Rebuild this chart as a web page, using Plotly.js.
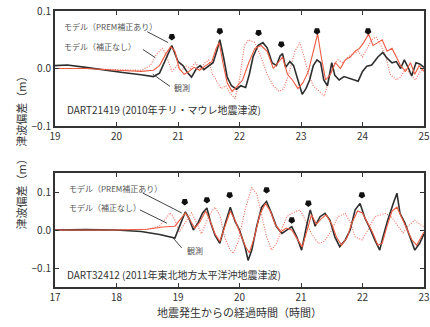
<!DOCTYPE html>
<html><head><meta charset="utf-8">
<script src="https://cdn.plot.ly/plotly-3.0.1.min.js"></script>
<style>body{margin:0;background:#fff}#c{width:430px;height:327px}</style>
</head><body><div id="c"></div>
<script>
// Top panel: DART21419
const tObsA=[19.0,19.2,19.5,19.8,20.1,20.4,20.6,20.7,20.8,20.9,21.0,21.08,21.16,21.22,21.3,21.36,21.42,21.5,21.57,21.63,21.68,21.74,21.8,21.87,21.95,22.02,22.1,22.16,22.22,22.3,22.38,22.45,22.53,22.6,22.66,22.7,22.75,22.82,22.88,22.95,23.02,23.08,23.14,23.2,23.26,23.32,23.37,23.43,23.5,23.55,23.62,23.7,23.76,23.84,23.93,24.0,24.07,24.15,24.25,24.33,24.4,24.48,24.55,24.62,24.68,24.75,24.8,24.87,24.93,25.0];
const vObsA=[0.005,0.006,0.002,-0.003,-0.007,-0.011,-0.014,-0.008,0.015,0.04,0.012,0.005,-0.008,-0.015,0.0,0.005,-0.002,0.005,0.01,0.03,0.05,0.02,-0.015,-0.03,-0.036,-0.03,-0.033,-0.01,0.02,0.04,0.045,0.036,0.01,0.005,0.022,0.026,0.002,0.012,0.005,-0.02,-0.045,-0.035,-0.02,0.005,0.015,0.01,-0.02,-0.03,0.01,-0.012,-0.02,-0.014,-0.016,-0.018,-0.022,-0.005,0.004,0.006,0.02,0.028,0.018,0.01,0.012,0.0,0.015,0.0,-0.013,0.01,0.008,0.002];
const tPremA=[19.0,19.5,20.0,20.4,20.6,20.7,20.8,20.88,20.95,21.02,21.1,21.18,21.26,21.35,21.45,21.55,21.62,21.67,21.73,21.8,21.88,21.96,22.05,22.15,22.25,22.35,22.45,22.55,22.62,22.7,22.78,22.86,22.95,23.03,23.12,23.2,23.27,23.33,23.4,23.48,23.56,23.64,23.72,23.8,23.88,23.95,24.02,24.1,24.17,24.25,24.32,24.4,24.48,24.55,24.62,24.7,24.78,24.85,24.92,25.0];
const vPremA=[0.0,0.0,-0.003,-0.005,-0.003,0.005,0.025,0.038,0.03,0.0,-0.01,-0.005,0.002,-0.003,0.005,0.012,0.035,0.045,0.01,-0.025,-0.04,-0.03,-0.02,0.01,0.035,0.04,0.03,0.0,0.01,0.02,-0.01,-0.02,-0.035,-0.025,-0.005,0.03,0.06,0.02,-0.02,-0.01,0.01,0.0,0.015,0.02,0.03,0.035,0.045,0.06,0.04,0.045,0.05,0.03,0.035,0.02,0.005,-0.005,0.01,-0.01,0.005,-0.005];
const tUncA=[19.0,19.5,20.0,20.4,20.55,20.65,20.75,20.82,20.9,20.98,21.05,21.12,21.2,21.28,21.36,21.44,21.5,21.56,21.62,21.7,21.78,21.86,21.93,22.0,22.08,22.15,22.25,22.35,22.45,22.55,22.65,22.72,22.8,22.9,22.98,23.05,23.12,23.2,23.3,23.38,23.45,23.52,23.6,23.68,23.76,23.85,23.93,24.0,24.08,24.15,24.22,24.3,24.38,24.45,24.55,24.62,24.7,24.78,24.86,24.94,25.0];
const vUncA=[0.0,0.0,-0.002,-0.003,0.005,0.025,0.035,0.02,-0.005,0.005,-0.005,0.005,0.0,0.01,0.0,0.01,0.015,-0.01,-0.02,-0.035,-0.03,-0.045,-0.052,-0.02,0.04,0.05,0.045,0.02,-0.01,-0.03,-0.04,-0.035,-0.01,0.03,0.045,0.02,-0.01,-0.03,-0.04,-0.048,-0.02,0.005,0.015,0.01,0.02,0.025,0.03,0.02,0.035,0.05,0.055,0.04,0.02,-0.01,-0.02,-0.015,0.0,-0.01,-0.02,-0.005,0.0];
const tStarA=[20.9,21.68,22.31,22.68,23.26,24.09];
const vStarA=[0.055,0.065,0.062,0.042,0.065,0.065];

// Bottom panel: DART32412
const tObsB=[17.0,17.5,18.0,18.4,18.7,18.95,19.05,19.12,19.18,19.25,19.33,19.4,19.47,19.53,19.6,19.68,19.77,19.85,19.93,20.0,20.09,20.14,20.2,20.28,20.36,20.44,20.52,20.6,20.69,20.77,20.85,20.93,21.01,21.1,21.15,21.23,21.31,21.39,21.47,21.55,21.63,21.72,21.8,21.88,21.96,22.04,22.12,22.2,22.28,22.33,22.41,22.5,22.56,22.61,22.69,22.77,22.85,22.93,23.0];
const vObsB=[0.0,0.001,0.0,-0.004,-0.012,-0.021,0.02,0.048,0.03,0.0,0.02,0.045,0.058,0.02,-0.013,-0.035,0.018,0.06,0.022,0.0,-0.044,-0.08,-0.053,0.01,0.06,0.075,0.044,0.009,-0.009,0.0,0.009,-0.018,-0.053,0.018,0.053,0.01,0.035,0.044,0.026,-0.018,-0.044,-0.026,0.0,0.053,0.07,0.031,0.005,-0.026,-0.053,-0.02,0.026,0.07,0.097,0.044,0.018,-0.018,-0.053,-0.035,-0.01];
const tPremB=[17.0,18.0,18.5,18.75,18.95,19.05,19.12,19.2,19.27,19.35,19.45,19.52,19.6,19.68,19.77,19.85,19.93,20.02,20.1,20.16,20.24,20.33,20.42,20.5,20.58,20.67,20.76,20.85,20.94,21.02,21.1,21.17,21.25,21.33,21.41,21.5,21.58,21.66,21.75,21.83,21.92,22.0,22.08,22.16,22.25,22.32,22.4,22.48,22.56,22.63,22.71,22.8,22.88,22.95,23.0];
const vPremB=[0.0,0.0,0.002,0.008,0.01,0.03,0.045,0.025,0.005,0.02,0.05,0.025,-0.01,-0.03,0.01,0.05,0.025,-0.01,-0.045,-0.06,-0.02,0.04,0.07,0.05,0.015,-0.005,0.005,0.0,-0.025,-0.045,0.0,0.04,0.015,0.03,0.04,0.015,-0.02,-0.04,-0.02,0.02,0.05,0.045,0.02,-0.005,-0.04,-0.035,0.01,0.05,0.06,0.035,0.01,-0.025,-0.04,-0.02,-0.005];
const tUncB=[17.0,18.0,18.5,18.7,18.8,18.87,18.94,19.02,19.12,19.22,19.3,19.38,19.46,19.53,19.6,19.68,19.76,19.84,19.9,19.98,20.09,20.2,20.28,20.36,20.44,20.52,20.6,20.68,20.77,20.85,20.98,21.07,21.17,21.28,21.38,21.5,21.6,21.72,21.8,21.88,21.99,22.09,22.2,22.37,22.47,22.58,22.66,22.74,22.85,22.93,23.0];
const vUncB=[0.0,0.0,0.002,0.01,0.03,0.045,0.03,-0.005,0.02,0.045,0.02,-0.01,0.02,0.045,0.06,0.04,-0.02,-0.05,-0.062,-0.03,0.053,0.112,0.095,0.04,-0.018,-0.053,-0.035,0.0,0.035,0.044,0.053,0.026,-0.01,-0.035,-0.03,0.0,0.035,0.044,0.02,-0.018,-0.026,0.0,0.035,0.044,0.035,0.01,-0.008,0.01,0.026,0.015,0.009];
const tStarB=[19.11,19.47,19.84,20.44,20.85,21.12,21.99];
const vStarB=[0.074,0.079,0.092,0.105,0.026,0.07,0.092];

const ytickA=[-0.1,0,0.1], ytickB=[-0.1,0,0.1];
const FONT='"Noto Sans CJK JP", "Noto Sans", sans-serif';
const cBlack='#2e2e2e', cRed='#ee5a40', cDot='#f06a58';

function lines(tO,vO,tP,vP,tU,vU,tS,vS,xa,ya){
  return [
    {x:tU,y:vU,xaxis:xa,yaxis:ya,mode:'lines',line:{color:cDot,width:1.1,dash:'1px,1.5px'},hoverinfo:'skip'},
    {x:tO,y:vO,xaxis:xa,yaxis:ya,mode:'lines',line:{color:cBlack,width:1.6},hoverinfo:'skip'},
    {x:tP,y:vP,xaxis:xa,yaxis:ya,mode:'lines',line:{color:cRed,width:1.1},hoverinfo:'skip'},
    {x:tS,y:vS,xaxis:xa,yaxis:ya,mode:'markers',marker:{symbol:'pentagon',angle:180,size:7,color:'#111'},hoverinfo:'skip'}
  ];
}
const data=[...lines(tObsA,vObsA,tPremA,vPremA,tUncA,vUncA,tStarA,vStarA,'x','y'),
            ...lines(tObsB,vObsB,tPremB,vPremB,tUncB,vUncB,tStarB,vStarB,'x2','y2')];

const axBase={showgrid:false,zeroline:false,showline:true,mirror:'ticks',linecolor:'#333',linewidth:2,
  ticks:'inside',ticklen:4,tickwidth:1,tickcolor:'#333',tickfont:{family:FONT,size:10,color:'#333'}};
const lab=(x,y,xr,yr,txt,sz,col)=>({x:x,y:y,xref:xr,yref:yr,text:txt,showarrow:false,xanchor:'left',yanchor:'middle',font:{family:FONT,size:sz,color:col}});
const seg=(x0,y0,x1,y1,xr,yr)=>({type:'line',x0:x0,y0:y0,x1:x1,y1:y1,xref:xr,yref:yr,line:{color:'#444',width:1}});

const layout={
  width:430,height:327,margin:{l:55,r:6,t:11,b:40},paper_bgcolor:'#fff',plot_bgcolor:'#fff',showlegend:false,
  xaxis:Object.assign({},axBase,{range:[19,25],dtick:1,anchor:'y'}),
  yaxis:Object.assign({},axBase,{range:[-0.1,0.1],tickvals:ytickA,tickformat:'.1f',domain:[0.5833,1],anchor:'x'}),
  xaxis2:Object.assign({},axBase,{range:[17,23],dtick:1,anchor:'y2',
    title:{text:'地震発生からの経過時間（時間）',font:{family:FONT,size:11,color:'#333'},standoff:3}}),
  yaxis2:Object.assign({},axBase,{range:[-0.15,0.15],tickvals:ytickB,tickformat:'.1f',domain:[0,0.413],anchor:'x2'}),
  annotations:[
    lab(19.11,0.073,'x','y','モデル（PREM補正あり）',8,'#555'),
    lab(19.11,0.038,'x','y','モデル（補正なし）',8,'#555'),
    lab(20.9,-0.033,'x','y','観測',8,'#555'),
    lab(19.16,-0.071,'x','y','DART21419 (2010年チリ・マウレ地震津波)',10,'#333'),
    lab(17.2,0.11,'x2','y2','モデル（PREM補正あり）',8,'#555'),
    lab(17.2,0.06,'x2','y2','モデル（補正なし）',8,'#555'),
    lab(19.11,-0.055,'x2','y2','観測',8,'#555'),
    lab(17.16,-0.118,'x2','y2','DART32412 (2011年東北地方太平洋沖地震津波)',10,'#333'),
    {x:-0.12,y:0.79,xref:'paper',yref:'paper',text:'津波偏差（m）',textangle:-90,showarrow:false,font:{family:FONT,size:11,color:'#333'}},
    {x:-0.12,y:0.2,xref:'paper',yref:'paper',text:'津波偏差（m）',textangle:-90,showarrow:false,font:{family:FONT,size:11,color:'#333'}}
  ],
  shapes:[
    seg(20.5,0.064,20.84,0.045,'x','y'),
    seg(20.43,0.033,20.63,0.019,'x','y'),
    seg(20.59,-0.010,20.87,-0.031,'x','y'),
    seg(18.43,0.097,19.06,0.045,'x2','y2'),
    seg(18.38,0.053,18.82,0.018,'x2','y2'),
    seg(18.92,-0.021,19.06,-0.047,'x2','y2')
  ]
};
Plotly.newPlot('c',data,layout,{displayModeBar:false,staticPlot:true});
</script></body></html>
